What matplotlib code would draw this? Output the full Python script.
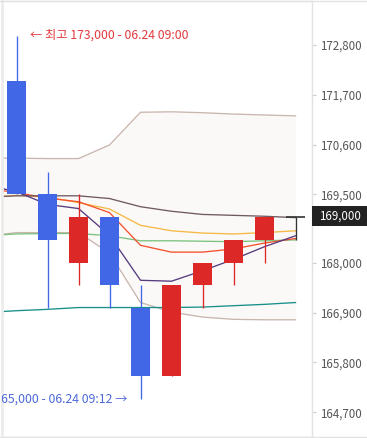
import numpy as np
import matplotlib
matplotlib.use('Agg')
import matplotlib.pyplot as plt
import matplotlib.transforms as mtransforms
from matplotlib.patches import Rectangle
from matplotlib.lines import Line2D

plt.rcParams['font.family'] = ['Noto Sans CJK KR', 'DejaVu Sans']

# candles (1 min), index 0..9
opens  = [172000, 169500, 168000, 169000, 167000, 165500, 167500, 168000, 168500, 169000]
highs  = [173000, 170000, 169500, 169000, 167500, 167500, 168000, 168500, 169000, 169000]
lows   = [169500, 167000, 167500, 167000, 165000, 165500, 167000, 167500, 168000, 168500]
closes = [169500, 168500, 169000, 167500, 165500, 167500, 168000, 168500, 169000, 169000]

# indicator lines, index -1..9
line_x = list(range(-1, 10))
bb_upper = [170300, 170300, 170290, 170290, 170590, 171310, 171320, 171300, 171270, 171250, 171230]
bb_lower = [168580, 168660, 168660, 168660, 168210, 167120, 166910, 166800, 166750, 166740, 166740]
bb_mid   = [169440, 169470, 169470, 169470, 169410, 169230, 169130, 169060, 169040, 169020, 168990]
ma_yellow = [169440, 169480, 169440, 169320, 169180, 168820, 168700, 168650, 168630, 168660, 168700]
ma_red    = [169640, 169540, 169420, 169340, 169100, 168380, 168230, 168230, 168300, 168430, 168530]
ma_purple = [169710, 169560, 169280, 169190, 168600, 167610, 167590, 167820, 168070, 168350, 168590]
ma_green  = [168590, 168630, 168640, 168640, 168590, 168480, 168480, 168470, 168460, 168480, 168500]
ma_teal   = [166900, 166940, 166970, 167010, 167010, 167010, 167010, 167020, 167050, 167080, 167120]

yticks = [164700, 165800, 166900, 168000, 169500, 170600, 171700, 172800]
last_price = 169000
high_label = '← 최고 173,000 - 06.24 09:00'
low_label = '최저 165,000 - 06.24 09:12 →'

W, H = 367, 438
fig = plt.figure(figsize=(W / 100, H / 100), dpi=100)
ax = fig.add_axes([2 / W, 1.5 / H, 310 / W, 435.5 / H])

# band fill + lines
ax.fill_between(line_x, bb_lower, bb_upper, color='#fbf9f8', lw=0, zorder=1)
ax.plot(line_x, bb_upper, color='#c9b6af', lw=0.95, zorder=2)
ax.plot(line_x, bb_lower, color='#c9b6af', lw=0.95, zorder=2)
ax.plot(line_x, ma_teal, color='#17908a', lw=0.95, zorder=2)
ax.plot(line_x, ma_green, color='#7cc27e', lw=0.95, zorder=2)
ax.plot(line_x, ma_yellow, color='#f5b944', lw=0.95, zorder=2)
ax.plot(line_x, ma_red, color='#f4512c', lw=0.95, zorder=2)
ax.plot(line_x, bb_mid, color='#6f5a61', lw=0.95, zorder=2)
ax.plot(line_x, ma_purple, color='#563b7e', lw=0.95, zorder=2)

up, down, flat = '#dd2828', '#4267e6', '#333333'
bw = 0.61
for i in range(len(opens)):
    o, h, l, c = opens[i], highs[i], lows[i], closes[i]
    col = up if c > o else (down if c < o else flat)
    ax.vlines(i, l, h, color=col, lw=0.95, zorder=3)
    if c == o:
        ax.hlines(c, i - bw / 2, i + bw / 2, color=col, lw=1.2, zorder=4)
    else:
        ax.bar(i, abs(c - o), bottom=min(o, c), width=bw, color=col, lw=0, zorder=4)

ax.set_xlim(-0.468, 9.532)
ax.set_ylim(164170, 173760)

# high / low markers
ax.annotate(high_label, xy=(0, highs[0]), xytext=(9.7, 0), textcoords='offset points',
            ha='left', va='center', color='#e23a3e', fontsize=8.8, zorder=6)
ax.annotate(low_label, xy=(4, lows[4]), xytext=(-9.4, 0), textcoords='offset points',
            ha='right', va='center', color='#4c69d8', fontsize=8.8, zorder=6, clip_on=True)

# right price axis
ax.yaxis.tick_right()
ax.set_yticks(yticks)
ax.set_yticklabels([f'{v:,}' for v in yticks])
ax.tick_params(axis='y', length=3, width=0.8, color='#cccccc', labelsize=8.3,
               labelcolor='#555555', pad=2.5)
ax.set_xticks([])
for s in ['top', 'bottom', 'right']:
    ax.spines[s].set_color('#e2e2e2')
    ax.spines[s].set_linewidth(1.0)
ax.spines['left'].set_color('#ececec')
ax.spines['left'].set_linewidth(2.0)

# last price box
tr = mtransforms.blended_transform_factory(ax.transAxes, ax.transData)
ax.add_patch(Rectangle((1.0, last_price - 200), 55 / 310, 450, transform=tr,
                       facecolor='#222222', edgecolor='none', clip_on=False, zorder=7))
ax.text(1.0 + 7 / 310, last_price + 25, f'{last_price:,}', transform=tr, color='white',
        fontsize=8.3, va='center', ha='left', zorder=8)

# frame lines across the full width
fig.add_artist(Line2D([0, 1], [1 - 0.5 / H, 1 - 0.5 / H], color='#e2e2e2', lw=1.0))
fig.add_artist(Line2D([0, 1], [1.5 / H, 1.5 / H], color='#e2e2e2', lw=1.0))

fig.savefig('out.png', dpi=100, facecolor='white')
